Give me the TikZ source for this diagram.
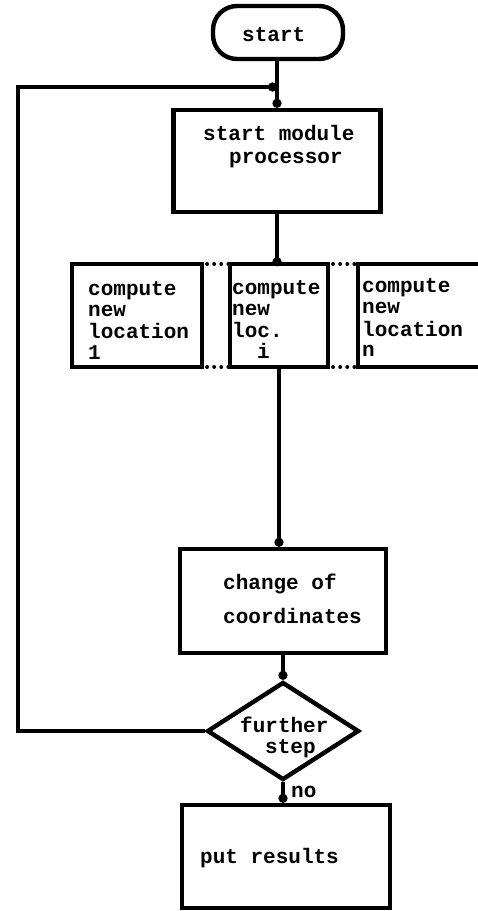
\documentclass[tikz,border=0pt]{standalone}
\usepackage{fontspec}
\setmonofont{Liberation Mono}
\usetikzlibrary{shapes.geometric,arrows.meta}

\begin{document}
\begin{tikzpicture}[x=1pt,y=-1pt,
  boxstyle/.style={draw, line width=4.4pt, rectangle, inner sep=0pt},
  flow/.style={line width=3.6pt, -{Circle[length=9pt,width=9pt]}},
  dots/.style={line width=3.8pt, line cap=round, dash pattern=on 0.1pt off 7pt},
  txt/.style={font=\fontsize{21}{22}\selectfont\ttfamily\bfseries, inner sep=0pt, anchor=base west}]

\useasboundingbox (0,0) rectangle (478,911);
\clip (0,0) rectangle (478,911);

% boxes
\node[boxstyle, rounded corners=24pt, minimum width=130pt, minimum height=53pt] (start) at (278,32.5) {};
\node[boxstyle, minimum width=207pt, minimum height=102pt] (smp) at (277,161) {};
\node[boxstyle, outer sep=0pt, minimum width=130pt, minimum height=103pt] (c1) at (137,315.5) {};
\node[boxstyle, outer sep=0pt, minimum width=98pt, minimum height=103pt] (c2) at (279,315.5) {};
\node[boxstyle, outer sep=0pt, minimum width=132pt, minimum height=103pt] (c3) at (424,315.5) {};
\node[boxstyle, minimum width=206pt, minimum height=104pt] (chg) at (283,601) {};
\node[draw, line width=4.4pt, diamond, inner sep=0pt, minimum width=152pt, minimum height=98pt] (dia) at (283,731) {};
\node[boxstyle, minimum width=208pt, minimum height=103pt] (put) at (286,856.5) {};

% texts
\node[txt] (tstart) at (242,41) {start};
\node[txt] (tsmpa) at (203,140) {start module};
\node[txt] (tsmpb) at (229,163) {processor};

\node[txt] (ta1) at (88,295) {compute};
\node[txt] (ta2) at (88,316) {new};
\node[txt] (ta3) at (88,338) {location};
\node[txt] (ta4) at (88,359) {1};

\node[txt] (tb1) at (232,294) {compute};
\node[txt] (tb2) at (232,315) {new};
\node[txt] (tb3) at (232,337) {loc.};
\node[txt] (tb4) at (257,358) {i};

\node[txt] (tc1) at (362,292) {compute};
\node[txt] (tc2) at (362,313) {new};
\node[txt] (tc3) at (362,336) {location};
\node[txt] (tc4) at (362,356) {n};

\node[txt] (tchga) at (223,589) {change of};
\node[txt] (tchgb) at (223,623) {coordinates};

\node[txt] (tdiaa) at (240,732) {further};
\node[txt] (tdiab) at (265,753) {step};

\node[txt] (tno) at (291,797) {no};
\node[txt] (tput) at (200,863) {put results};

% connectors
\coordinate (join) at (277,87);
\coordinate (lc) at (18,87);
\draw[flow] (start.south -| smp.north) -- (smp.north);
\draw[flow] (dia.west) -| (lc) -- (join);
\draw[flow] (smp.south) -- ([yshift=-2.2pt]smp.south |- c2.north);
\draw[flow] (c2.south) -- (c2.south |- chg.north);
\draw[flow] (chg.south -| dia.north) -- (dia.north);
\draw[flow] (dia.south) -- (dia.south |- put.north);

% parallel branches
\draw[dots] ([xshift=5pt]c1.north east) -- (c2.north west);
\draw[dots] ([xshift=5pt]c1.south east) -- (c2.south west);
\draw[dots] ([xshift=5pt]c2.north east) -- (c3.north west);
\draw[dots] ([xshift=5pt]c2.south east) -- (c3.south west);
\end{tikzpicture}
\end{document}
